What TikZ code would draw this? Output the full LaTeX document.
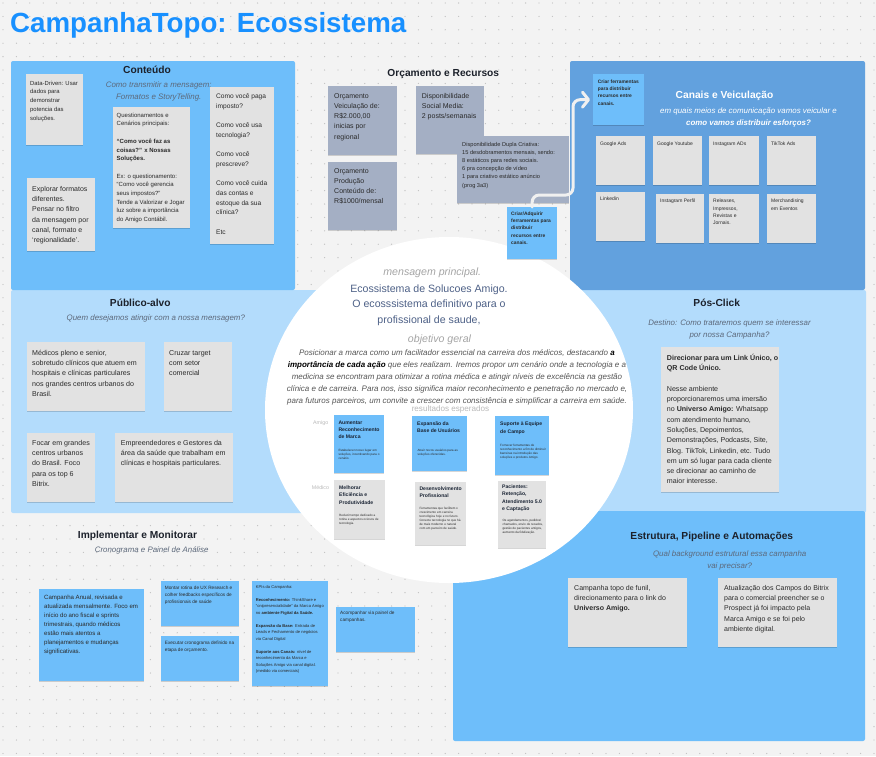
\documentclass[tikz,border=0pt]{standalone}
\usepackage{fontspec}
\setmainfont{Liberation Sans}
\usetikzlibrary{arrows.meta,shadows}

\definecolor{bg}{RGB}{243,243,243}
\definecolor{dotc}{RGB}{192,192,192}
\definecolor{pblue}{RGB}{110,190,250}
\definecolor{pband}{RGB}{179,220,252}
\definecolor{pdark}{RGB}{98,161,222}
\definecolor{cgray}{RGB}{226,226,226}
\definecolor{cslate}{RGB}{164,175,196}
\definecolor{ttl}{RGB}{24,144,255}
\definecolor{ink}{RGB}{42,42,42}
\definecolor{head}{RGB}{28,33,43}
\definecolor{navy}{RGB}{26,36,52}
\definecolor{subg}{RGB}{92,104,122}
\definecolor{msg}{RGB}{78,97,135}
\definecolor{lgray}{RGB}{165,165,165}
\definecolor{rgray}{RGB}{185,185,185}
\definecolor{para}{RGB}{85,85,85}
\definecolor{connc}{RGB}{240,240,240}

\tikzset{
  fz/.style 2 args={font=\fontsize{#1}{#2}\selectfont},
  fzb/.style 2 args={font=\fontsize{#1}{#2}\selectfont\bfseries},
  pad/.style 2 args={xshift=#1pt, yshift=-#2pt},
  shadowed/.style={drop shadow={shadow xshift=0pt, shadow yshift=-1.2pt, opacity=0.16, fill=black}},
  graycard/.style={fill=cgray, shadowed, inner sep=0pt},
  bluecard/.style={fill=pblue, shadowed, inner sep=0pt},
  slatecard/.style={fill=cslate, shadowed, inner sep=0pt},
  ctext/.style={anchor=north west, inner sep=0pt, text width=240pt, align=flush left, text=ink},
  rtitle/.style={fzb={5.1}{7.4}, text=navy},
  rdesc/.style={ctext, fz={3.1}{4}, text=ink},
  heading/.style={font=\fontsize{10.2}{12}\selectfont\bfseries, text=head, inner sep=0pt},
  subtitle/.style={font=\fontsize{7.9}{12}\selectfont\itshape, text=subg, align=center, inner sep=0pt},
  connline/.style={draw=connc, line width=3pt, line cap=round, rounded corners=7pt},
}

% name, card style, x1, y1, x2, y2, text options, text
\newcommand{\card}[8]{%
  \node[#2, anchor=north west, minimum width={#5-#3}, minimum height={#6-#4}] (#1) at (#3,#4) {};
  \node[ctext, #7] (#1t) at (#1.north west) {#8};
}

\begin{document}
\begin{tikzpicture}[x=1pt,y=-1pt]
\useasboundingbox (0,0) rectangle (876,756);
\fill[bg] (0,0) rectangle (876,756);
\foreach \r in {0,...,56}{
  \draw[dotc, line width=1.3pt, line cap=round, dash pattern=on 0pt off 13.4pt] (3,{3+\r*13.4}) -- (876,{3+\r*13.4});
}

% panels
\fill[pband, rounded corners=2pt] (11,290) rectangle (866,513);
\fill[pblue, rounded corners=2pt] (11,61) rectangle (295,290);
\fill[pdark, rounded corners=2pt] (570,61) rectangle (865,290);
\fill[pblue, rounded corners=2pt] (453,511) rectangle (865,741);

% central white disc
\fill[white] (449,410) ellipse [x radius=184, y radius=173];

% title
\node[font=\fontsize{27.7}{30}\selectfont\bfseries, text=ttl, anchor=base west, inner sep=0pt] (title) at (10,32) {CampanhaTopo: Ecossistema};

% ---------------- Conteudo
\node[heading] (hcont) at (147,70) {Conteúdo};
\node[subtitle] (scont) at (158.7,91.5) {Como transmitir a mensagem:\\ Formatos e StoryTelling.};
\card{dd}{graycard}{26}{74}{83}{145}{fz={5.9}{8.7},pad={4}{6.8}}{Data-Driven: Usar\\ dados para\\ demonstrar\\ potencia das\\ soluções.}
\card{expl}{graycard}{27}{178}{95}{251}{fz={7}{10.3},pad={5}{8}}{Explorar formatos\\ diferentes.\\ Pensar no filtro\\ da mensagem por\\ canal, formato e\\ `regionalidade'.}
\card{quest}{graycard}{113}{107}{190}{228}{fz={6}{8.7},pad={3.5}{5.7}}{Questionamentos e\\ Cenários principais:\\[8.7pt] \textbf{“Como você faz as}\\ \textbf{coisas?” x  Nossas}\\ \textbf{Soluções.}\\[8.7pt] Ex: o questionamento:\\ “Como você gerencia\\ seus impostos?”\\ Tende a Valorizar e Jogar\\ luz sobre a importância\\ do  Amigo Contábil.}
\card{como}{graycard}{210}{87}{274}{244}{fz={6.6}{9.7},pad={6}{6.3}}{Como você paga\\ imposto?\\[9.7pt] Como você usa\\ tecnologia?\\[9.7pt] Como você\\ prescreve?\\[9.7pt] Como você cuida\\ das contas e\\ estoque da sua\\ clínica?\\[9.7pt] Etc}

% ---------------- Orcamento
\node[heading] (horc) at (443.3,74) {Orçamento e Recursos};
\card{ov}{slatecard}{328}{86}{397}{155}{fz={7}{10.3},pad={6}{7}}{Orçamento\\ Veiculação de:\\ R\$2.000,00\\ inicias por\\ regional}
\card{op}{slatecard}{328}{162}{397}{230}{fz={7}{10.3},pad={6}{6}}{Orçamento\\ Produção\\ Conteúdo de:\\ R\$1000/mensal}
\card{sm}{slatecard}{416}{86}{484}{154}{fz={7}{10.3},pad={5.7}{7}}{Disponibilidade\\ Social Media:\\ 2 posts/semanais}
\card{dup}{slatecard}{457}{136}{569}{203}{fz={5.65}{8.2},pad={5}{5.9}}{Disponibilidade Dupla Criativa:\\ 15 desdobramentos mensais, sendo:\\ 8 estáticos para redes sociais.\\ 6 pra concepção de vídeo\\ 1 para criativo estático anúncio\\ (prog 3a3)}
\card{criarA}{bluecard}{507}{207}{557}{259}{fzb={4.9}{7.3},pad={4}{4.5}}{Criar/Adquirir\\ ferramentas para\\ distribuir\\ recursos entre\\ canais.}

% ---------------- Canais
\node[heading, text=white] (hcan) at (724.5,96) {Canais e Veiculação};
\node[subtitle, text=white] (scan) at (748.5,117) {em quais meios de comunicação vamos veicular e\\ \textbf{como vamos distribuir esforços?}};
\card{criarF}{bluecard}{593}{74}{644}{125}{fzb={4.9}{7.3},pad={4.7}{5.5}}{Criar ferramentas\\ para distribuir\\ recursos entre\\ canais.}
\card{gads}{graycard}{596}{136}{645}{185}{fz={5}{7.3},pad={4}{5.4}}{Google Ads}
\card{gyt}{graycard}{653}{136}{702}{185}{fz={5}{7.3},pad={4}{5.4}}{Google Youtube}
\card{iads}{graycard}{709}{136}{759}{185}{fz={5}{7.3},pad={4}{5.4}}{Instagram ADs}
\card{ttk}{graycard}{767}{136}{816}{185}{fz={5}{7.3},pad={4}{5.4}}{TikTok Ads}
\card{lnk}{graycard}{596}{192}{645}{241}{fz={5}{7.3},pad={4}{5.1}}{Linkedin}
\card{ipf}{graycard}{656}{194}{704}{243}{fz={5}{7.3},pad={4}{5.1}}{Instagram Perfil}
\card{rel}{graycard}{709}{194}{759}{243}{fz={5}{7.3},pad={4}{5.1}}{Releases,\\ Impressos,\\ Revistas e\\ Jornais.}
\card{mer}{graycard}{767}{194}{816}{243}{fz={5}{7.3},pad={4}{5.1}}{Merchandising\\ em Eventos}

\draw[connline, -{Straight Barb[length=6pt,width=15pt,round]}] (criarA.north) |- (573,195) |- ([xshift=-3pt]criarF.west);

% ---------------- Publico-alvo
\node[heading] (hpub) at (140.3,303) {Público-alvo};
\node[subtitle] (spub) at (155.8,318) {Quem desejamos atingir com a nossa mensagem?};
\card{med}{graycard}{27}{342}{145}{411}{fz={7.1}{10.3},pad={5}{7.9}}{Médicos pleno e senior,\\ sobretudo clínicos que atuem em\\ hospitais e clínicas particulares\\ nos grandes centros urbanos do\\ Brasil.}
\card{cruz}{graycard}{164}{342}{232}{411}{fz={7.1}{10.3},pad={5}{7.9}}{Cruzar target\\ com setor\\ comercial}
\card{foc}{graycard}{27}{433}{95}{502}{fz={7.1}{10.3},pad={5}{6.9}}{Focar em grandes\\ centros urbanos\\ do Brasil. Foco\\ para os top 6\\ Bitrix.}
\card{emp}{graycard}{115}{433}{233}{502}{fz={7.1}{10.3},pad={5.7}{6.9}}{Empreendedores e Gestores da\\ área da saúde que trabalham em\\ clínicas e hospitais particulares.}

% ---------------- Pos-Click
\node[heading] (hpos) at (716.7,303.3) {Pós-Click};
\node[subtitle] (spos) at (729.5,329) {Destino: Como trataremos quem se interessar\\ por nossa Campanha?};
\card{pos}{graycard}{661}{347}{779}{492}{fz={7.1}{10.3},pad={5.7}{6.9}}{\textbf{Direcionar para um Link Único, o}\\ \textbf{QR Code Único.}\\[10.3pt] Nesse ambiente\\ proporcionaremos uma imersão\\ no \textbf{Universo Amigo:} Whatsapp\\ com atendimento humano,\\ Soluções, Depoimentos,\\ Demonstrações, Podcasts, Site,\\ Blog. TikTok, Linkedin, etc. Tudo\\ em um só lugar para cada cliente\\ se direcionar ao caminho de\\ maior interesse.}

% ---------------- Centre texts
\node[font=\fontsize{10.6}{13}\selectfont\itshape, text=lgray, anchor=base, inner sep=0pt] (mp) at (432.3,275.5) {mensagem principal.};
\node[font=\fontsize{10.6}{15.5}\selectfont, text=msg, align=center, anchor=north, inner sep=0pt] (eco) at (429,284.2) {Ecossistema de Solucoes Amigo.\\ O ecosssistema definitivo para o\\ profissional de saude,};
\node[font=\fontsize{10.6}{13}\selectfont\itshape, text=lgray, anchor=base, inner sep=0pt] (og) at (439.5,342.3) {objetivo geral};
\node[font=\fontsize{8}{12}\selectfont\itshape, text=para, align=center, anchor=north, inner sep=0pt] (par) at (457,349.4) {Posicionar a marca como um facilitador essencial na carreira dos médicos, destacando \textbf{\color{black}a}\\ \textbf{\color{black}importância de cada ação} que eles realizam. Iremos propor um cenário onde a tecnologia e a\\ medicina se encontram para otimizar a rotina médica e atingir níveis de excelência na gestão\\ clínica e de carreira. Para nos, isso significa maior reconhecimento e penetração no mercado e,\\ para futuros parceiros, um convite a crescer com consistência e simplificar  a carreira em saúde.};
\node[font=\fontsize{8.1}{10}\selectfont, text=rgray, anchor=base, inner sep=0pt] (res) at (450.5,411.6) {resultados esperados};
\node[font=\fontsize{5.3}{6}\selectfont, text=rgray, anchor=base west, inner sep=0pt] (lamigo) at (313,424.5) {Amigo};
\node[font=\fontsize{5.3}{6}\selectfont, text=rgray, anchor=base west, inner sep=0pt] (lmedico) at (311.7,489) {Médico};

\card{r1}{bluecard}{334}{415}{384}{473}{rtitle,pad={4.3}{5.3}}{Aumentar\\ Reconhecimento\\ de Marca}
\node[rdesc] (r1d) at (338.3,449.2) {Estabelecer nosso lugar em\\ soluções, incentivando para o\\ cenário.};
\card{r2}{bluecard}{412}{416}{467}{471}{rtitle,pad={5}{5.3}}{Expansão da\\ Base de Usuários}
\node[rdesc] (r2d) at (417.3,448.9) {Atrair novos usuários para as\\ soluções oferecidas.};
\card{r3}{bluecard}{495}{416}{549}{475}{rtitle,pad={5}{6}}{Suporte à Equipe\\ de Campo}
\node[rdesc] (r3d) at (500,443.6) {Fornecer ferramentas de\\ reconhecimento a fim de diminuir\\ barreiras na introdução das\\ soluções e produtos Amigo.};
\card{r4}{graycard}{334}{480}{385}{539}{rtitle,pad={5}{5.3}}{Melhorar\\ Eficiência e\\ Produtividade}
\node[rdesc] (r4d) at (339,513.9) {Reduzir tempo dedicado a\\ rotina e aspectos ociosos de\\ tecnologia.};
\card{r5}{graycard}{415}{482}{466}{545}{rtitle,pad={4.3}{4.3}}{Desenvolvimento\\ Profissional}
\node[rdesc] (r5d) at (419.3,506.6) {Ferramentas que facilitem o\\ crescimento em carreira\\ tecnológica hoje e no futuro.\\ Conecte tecnologia no que há\\ de mais moderno e natural\\ com um parceiro de saúde.};
\card{r6}{graycard}{498}{481}{546}{548}{rtitle,pad={4}{3.6}}{Pacientes:\\ Retenção,\\ Atendimento 5.0\\ e Captação}
\node[rdesc] (r6d) at (502.3,518.9) {Os agendamentos, pedidos/\\ chamados, envio de recados,\\ gestão de pacientes antigos,\\ aumento da fidelização.};

% ---------------- Implementar e Monitorar
\node[heading] (himp) at (137.5,535.7) {Implementar e Monitorar};
\node[subtitle] (simp) at (151.7,550.7) {Cronograma e Painel de Análise};
\card{anual}{bluecard}{39}{589}{144}{681}{fz={6.1}{9.1},pad={5}{5.6}}{Campanha Anual, revisada e\\ atualizada mensalmente. Foco em\\ início do ano fiscal e sprints\\ trimestrais, quando médicos\\ estão mais atentos a\\ planejamentos e mudanças\\ significativas.}
\card{ux}{bluecard}{161}{581}{239}{626}{fz={4.7}{7},pad={3.7}{4.6}}{Montar rotina de UX Research e\\ colher feedbacks específicos de\\ profissionais de saúde}
\card{exe}{bluecard}{161}{636}{239}{681}{fz={4.7}{7},pad={3.7}{4.6}}{Executar cronograma definido na\\ etapa de orçamento.}
\card{kpi}{bluecard}{252}{581}{328}{686}{fz={4.1}{6.5},pad={3.7}{4}}{KPIs da Campanha:\\[6.5pt] \textbf{Reconhecimento:} ThinkShare e\\ “onipresencialidade” da Marca Amigo\\ no \textbf{ambiente Figital da Saúde.}\\[6.5pt] \textbf{Expansão da Base:} Entrada de\\ Leads e Fechamento de negócios\\ via Canal Digital\\[6.5pt] \textbf{Suporte aos Canais:}  nível de\\ reconhecimento da Marca e\\ Soluções Amigo via canal digital.\\ (medido via comerciais)}
\card{acomp}{bluecard}{336}{607}{415}{652}{fz={4.7}{7},pad={4}{3.6}}{Acompanhar via painel de\\ campanhas.}

% ---------------- Estrutura
\node[heading] (hest) at (711.8,537.3) {Estrutura, Pipeline e Automações};
\node[subtitle] (sest) at (729.7,560) {Qual background estrutural essa campanha\\ vai precisar?};
\card{e1}{graycard}{568}{578}{687}{647}{fz={7}{10.3},pad={6}{7}}{Campanha topo de funil,\\ direcionamento para o link do\\ \textbf{Universo Amigo.}}
\card{e2}{graycard}{718}{578}{837}{647}{fz={7}{10.3},pad={6}{7}}{Atualização dos Campos do Bitrix\\ para o comercial preencher se o\\ Prospect já foi impacto pela\\ Marca Amigo e se foi pelo\\ ambiente digital.}
\end{tikzpicture}
\end{document}
